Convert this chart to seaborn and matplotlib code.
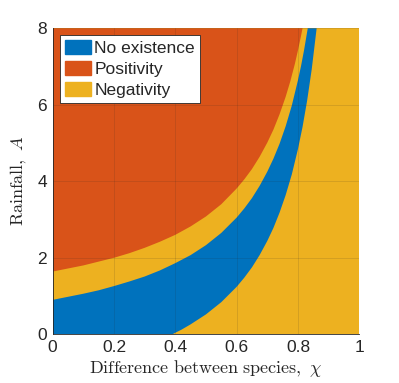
import matplotlib
matplotlib.use("Agg")
import seaborn as sns
from matplotlib import pyplot as plt
from matplotlib.patches import Patch

# boundary: top of the "No existence" band (yellow/blue)
chi_upper = [0.0, 0.05, 0.1, 0.15, 0.2, 0.25, 0.3, 0.35, 0.4, 0.45, 0.5, 0.55,
             0.6, 0.625, 0.65, 0.675, 0.7, 0.72, 0.74, 0.76, 0.78, 0.8, 0.81,
             0.82, 0.832]
A_upper = [0.90, 0.98, 1.06, 1.15, 1.26, 1.38, 1.51, 1.67, 1.86, 2.07, 2.33,
           2.65, 3.05, 3.29, 3.56, 3.88, 4.25, 4.59, 4.98, 5.44, 5.98, 6.64,
           7.01, 7.43, 8.0]

# right / lower edge of the "No existence" band (blue/yellow)
chi_lower = [0.39, 0.42, 0.45, 0.5, 0.55, 0.6, 0.625, 0.65, 0.675, 0.7, 0.72,
             0.74, 0.76, 0.78, 0.8, 0.815, 0.83, 0.845, 0.861]
A_lower = [0.0, 0.12, 0.26, 0.52, 0.84, 1.24, 1.48, 1.75, 2.07, 2.44, 2.78,
           3.18, 3.64, 4.18, 4.84, 5.42, 6.11, 6.93, 8.0]

# lower edge of the "Positivity" region (orange/yellow)
chi_pos = [0.0, 0.05, 0.1, 0.15, 0.2, 0.25, 0.3, 0.35, 0.4, 0.45, 0.5, 0.55,
           0.6, 0.625, 0.65, 0.675, 0.7, 0.72, 0.74, 0.76, 0.775, 0.79, 0.8,
           0.81, 0.815]
A_pos = [1.64, 1.72, 1.80, 1.90, 2.00, 2.12, 2.26, 2.42, 2.60, 2.82, 3.08,
         3.40, 3.81, 4.05, 4.32, 4.64, 5.01, 5.35, 5.75, 6.21, 6.61, 7.07,
         7.42, 7.80, 8.0]

labels = ["No existence", "Positivity", "Negativity"]
colors = ["#0072BD", "#D95319", "#EDB120"]

x_ticks = [0, 0.2, 0.4, 0.6, 0.8, 1]
x_ticklabels = ["0", "0.2", "0.4", "0.6", "0.8", "1"]
y_ticks = [0, 2, 4, 6, 8]

sns.set_style("white")
plt.rcParams["font.family"] = ["Liberation Sans", "DejaVu Sans"]
plt.rcParams["mathtext.fontset"] = "cm"

fig = plt.figure(figsize=(3.99, 3.83), dpi=100)
ax = fig.add_axes([0.132, 0.1272, 0.7684, 0.799])

# negativity fills the whole plane, the others are painted over it
ax.fill([0, 1, 1, 0], [0, 0, 8, 8], color=colors[2], lw=0, zorder=1)

blue_x = [0.0] + chi_lower + chi_upper[::-1]
blue_y = [0.0] + A_lower + A_upper[::-1]
ax.fill(blue_x, blue_y, color=colors[0], lw=0, zorder=1)

orange_x = [0.0] + chi_pos
orange_y = [8.0] + A_pos
ax.fill(orange_x, orange_y, color=colors[1], lw=0, zorder=1)

ax.set_xlim(0, 1)
ax.set_ylim(0, 8)
ax.set_xticks(x_ticks)
ax.set_xticklabels(x_ticklabels)
ax.set_yticks(y_ticks)
ax.set_axisbelow(False)
ax.grid(True, color="#262626", alpha=0.15, lw=0.6)
ax.tick_params(direction="in", length=3.5, width=0.6, colors="#262626",
               labelsize=12.5, pad=4)
for side in ["top", "right"]:
    ax.spines[side].set_visible(False)
for side in ["left", "bottom"]:
    ax.spines[side].set_color("#262626")
    ax.spines[side].set_linewidth(0.6)

ax.set_xlabel(r"$\mathrm{Difference\ between\ species,}\ \chi$",
              fontsize=13, color="#262626", labelpad=2)
ax.set_ylabel(r"$\mathrm{Rainfall,}\ A$", fontsize=13, color="#262626",
              labelpad=6)

handles = [Patch(facecolor=c, edgecolor=c) for c in colors]
leg = ax.legend(handles, labels, loc="upper left", fontsize=12.5,
                fancybox=False, framealpha=1, edgecolor="#262626",
                handlelength=1.5, handleheight=0.86, handletextpad=0.2,
                borderpad=0.3, labelspacing=0.28, borderaxespad=0.4)
leg.get_frame().set_linewidth(0.6)

fig.savefig("out.png", dpi=100)
